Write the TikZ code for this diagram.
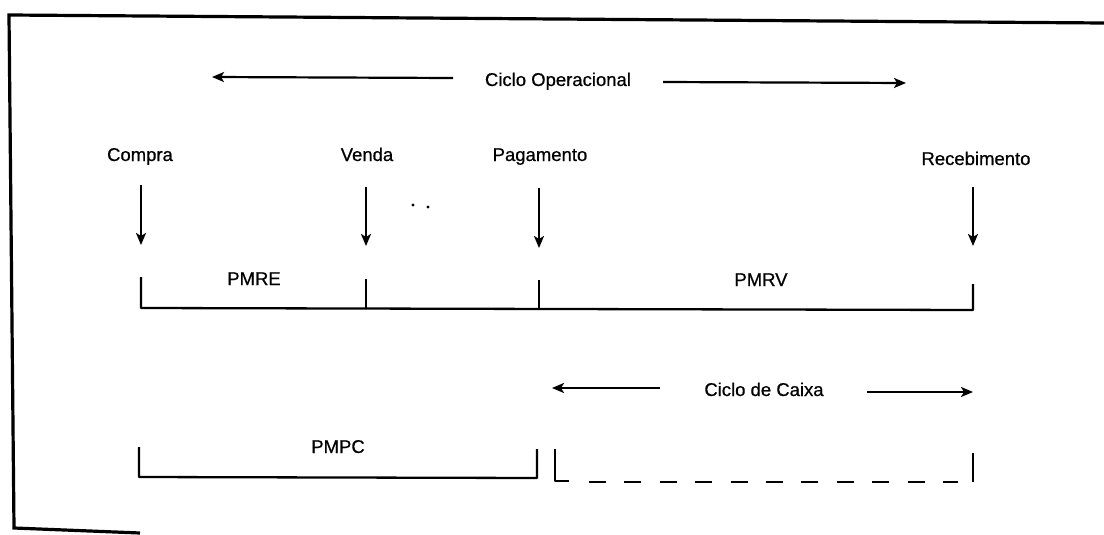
\documentclass[tikz,border=0pt]{standalone}
\usepackage{fontspec}
\setmainfont[FakeBold=0.6]{Liberation Sans}
\usetikzlibrary{arrows.meta}
\begin{document}
\begin{tikzpicture}[x=1pt,y=-1pt,
  lbl/.style={font=\fontsize{18.5}{22}\selectfont, anchor=base, inner sep=0pt},
  arr/.style={line width=2.2pt, -{Stealth[length=12pt,width=10pt,inset=3pt]}},
  brk/.style={line width=2.3pt, line join=round},
  frm/.style={line width=3.2pt, line join=miter}]
\useasboundingbox (0,0) rectangle (1104,535);
% frame (open)
\draw[frm] (1104,23) -- (9,15) -- (14,528) -- (140,533);
% Ciclo Operacional
\node[lbl] (co) at (558,86) {Ciclo Operacional};
\coordinate (coL1) at (453,78);
\coordinate (coL2) at (212,77);
\coordinate (coR1) at (663,82);
\coordinate (coR2) at (906,83);
\draw[arr] (coL1) -- (coL2);
\draw[arr] (coR1) -- (coR2);
% event labels
\node[lbl] (compra) at (140,161) {Compra};
\node[lbl] (venda) at (367,161) {Venda};
\node[lbl] (pag) at (540,161) {Pagamento};
\node[lbl] (rec) at (976,165) {Recebimento};
% down arrows
\coordinate (a1) at (141,185); \coordinate (b1) at (141,245);
\coordinate (a2) at (366,187); \coordinate (b2) at (366,246);
\coordinate (a3) at (539,188); \coordinate (b3) at (539,248);
\coordinate (a4) at (973,187); \coordinate (b4) at (973,246);
\draw[arr] (a1) -- (b1);
\draw[arr] (a2) -- (b2);
\draw[arr] (a3) -- (b3);
\draw[arr] (a4) -- (b4);
% dots
\fill (413,205) circle (1.7pt);
\fill (428,207) circle (1.7pt);
% upper bracket
\coordinate (u1) at (141,277);
\coordinate (u1b) at (141,308);
\coordinate (u4) at (973,284);
\coordinate (u4b) at (973,310);
\draw[brk] (u1) -- (u1b) -- (u4b) -- (u4);
\draw[brk] (366,279) -- (366,309);
\draw[brk] (539,280) -- (539,309);
\node[lbl] (pmre) at (254,285) {PMRE};
\node[lbl] (pmrv) at (761,286) {PMRV};
% Ciclo de Caixa
\node[lbl] (cc) at (764,396) {Ciclo de Caixa};
\coordinate (ccL1) at (660,388);
\coordinate (ccL2) at (552,388);
\coordinate (ccR1) at (867,392);
\coordinate (ccR2) at (973,392);
\draw[arr] (ccL1) -- (ccL2);
\draw[arr] (ccR1) -- (ccR2);
% PMPC bracket
\draw[brk] (139,447) -- (139,477) -- (537,478) -- (537,449);
\node[lbl] (pmpc) at (338,453) {PMPC};
% dashed bracket
\draw[brk] (555,449) -- (555,481) -- (569,481);
\draw[line width=2.3pt, dash pattern=on 17pt off 18.4pt] (589,482) -- (958,482);
\draw[brk] (973,453) -- (973,482);
\end{tikzpicture}
\end{document}
